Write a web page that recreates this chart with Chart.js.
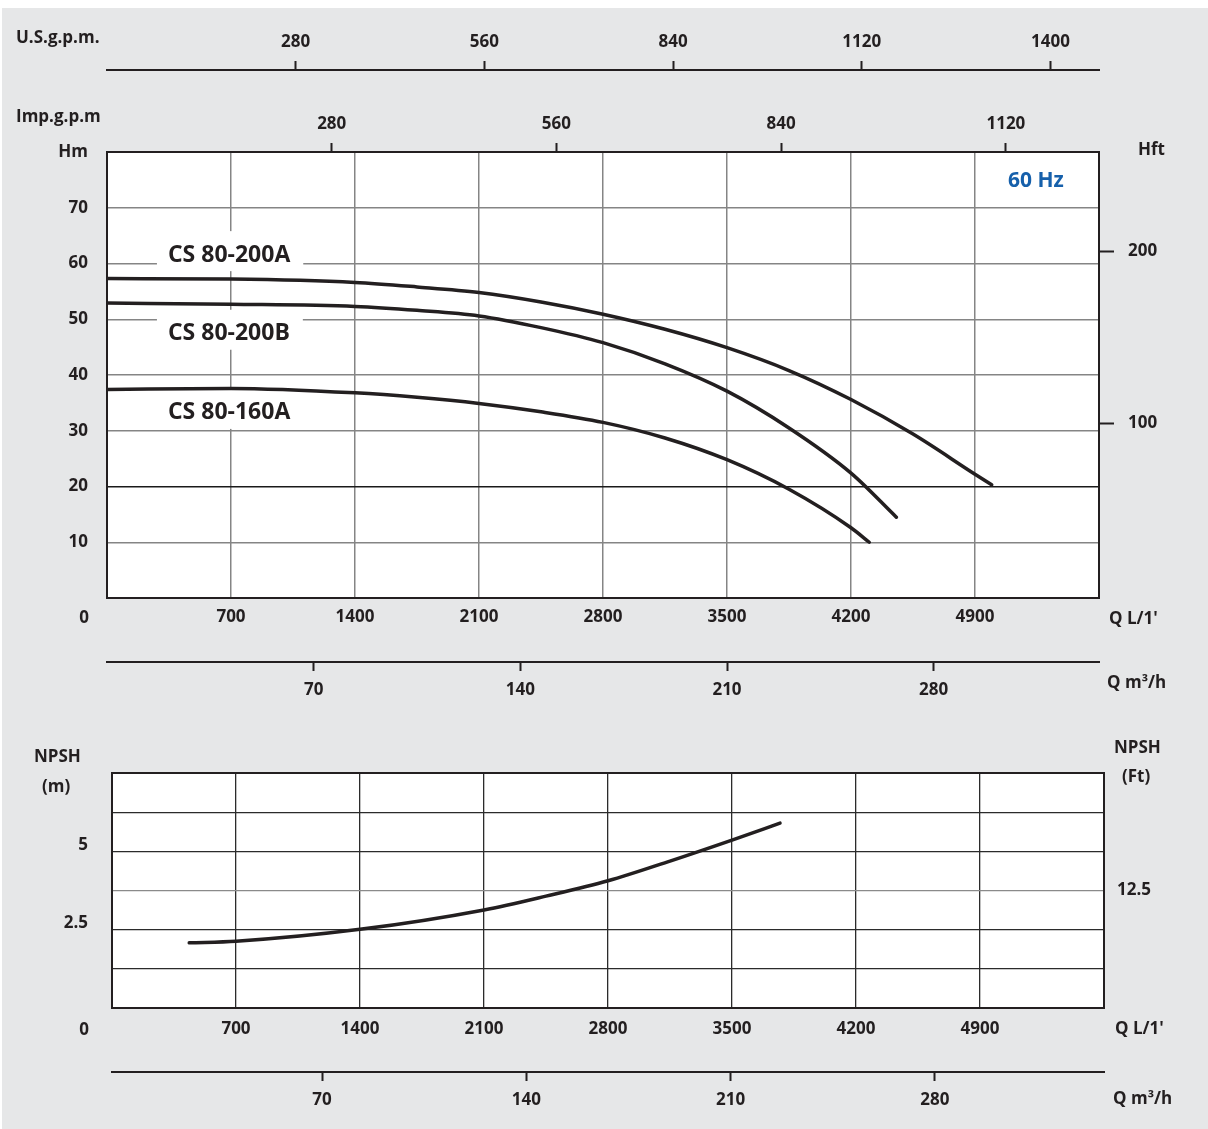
<!DOCTYPE html>
<html>
<head>
<meta charset="utf-8">
<script src="https://cdn.jsdelivr.net/npm/chart.js@4.4.1/dist/chart.umd.min.js"></script>
<style>
  html, body { margin: 0; padding: 0; background: #fff; }
  #page { position: absolute; left: 2px; top: 8px; width: 1206px; height: 1121px; background: #e6e7e8; }
  canvas { position: absolute; left: 0; }
  #headChart { top: 0; }
  #npshChart { top: 720px; }
</style>
</head>
<body>
<div id="page"></div>
<canvas id="headChart" width="1208" height="720"></canvas>
<canvas id="npshChart" width="1208" height="409"></canvas>
<script>
// Q-H curves at 60 Hz, Q in L/min, H in m
const modelNames = ["CS 80-200A", "CS 80-200B", "CS 80-160A"];
const qA = [0, 700, 1400, 1750, 2100, 2450, 2800, 3150, 3500, 3850, 4200, 4550, 4900, 4994];
const hA = [57.3, 57.2, 56.6, 55.8, 54.8, 53.1, 50.9, 48.2, 44.9, 40.8, 35.6, 29.4, 22.2, 20.3];
const qB = [0, 700, 1400, 1750, 2100, 2450, 2800, 3150, 3500, 3850, 4200, 4456];
const hB = [52.9, 52.7, 52.3, 51.6, 50.6, 48.5, 45.8, 42.0, 37.1, 30.5, 22.4, 14.5];
const qC = [0, 700, 1400, 1750, 2100, 2450, 2800, 3150, 3500, 3850, 4200, 4303];
const hC = [37.4, 37.6, 36.8, 36.0, 34.9, 33.4, 31.5, 28.7, 24.8, 19.5, 12.6, 10.0];

// NPSH required, Q in L/min, NPSH in m
const qNpsh = [436, 700, 1400, 2100, 2450, 2800, 3150, 3500, 3771];
const npsh = [2.08, 2.13, 2.51, 3.13, 3.57, 4.06, 4.69, 5.36, 5.9];

// tick labels of the secondary scales
const usGpmTicks = [280, 560, 840, 1120, 1400];
const impGpmTicks = [280, 560, 840, 1120];
const m3hTicks = [70, 140, 210, 280];
const hftTicks = [100, 200];
const npshMTicks = [2.5, 5];
const npshFtTicks = [12.5];

const ink = "#231f20";
Chart.defaults.font.family = "'Open Sans', 'DejaVu Sans', sans-serif";
Chart.defaults.font.weight = "bold";
Chart.defaults.font.size = 17;
Chart.defaults.color = ink;

const curve = (q, v) => q.map((x, i) => ({ x, y: v[i] }));
const lineStyle = { borderColor: ink, borderWidth: 3.5, pointRadius: 0, fill: false,
  cubicInterpolationMode: "monotone", borderCapStyle: "round" };
const fixedTicks = list => axis => { axis.ticks = list.map(value => ({ value })); };
const plain = v => String(v);

function text(ctx, str, x, y, align) {
  ctx.textAlign = align || "left";
  ctx.fillText(str, x, y);
}

const plotBg = {
  id: "plotBg",
  beforeDraw(chart) {
    const a = chart.chartArea, ctx = chart.ctx;
    ctx.save();
    ctx.fillStyle = "#fff";
    ctx.fillRect(a.left, a.top, a.width, a.height);
    ctx.restore();
  },
  afterDatasetsDraw(chart) {
    const a = chart.chartArea, ctx = chart.ctx;
    ctx.save();
    ctx.strokeStyle = ink;
    ctx.lineWidth = 2;
    ctx.strokeRect(a.left, a.top, a.width, a.height);
    ctx.restore();
  }
};

// static captions around the plots
const captions = lines => ({
  id: "captions",
  afterDraw(chart) {
    const ctx = chart.ctx;
    ctx.save();
    ctx.fillStyle = ink;
    ctx.font = "bold 17px 'Open Sans', sans-serif";
    ctx.textBaseline = "middle";
    lines.forEach(l => text(ctx, l[0], l[1], l[2], l[3]));
    ctx.restore();
  }
});

// model names with white boxes, and the frequency tag
const curveLabels = {
  id: "curveLabels",
  beforeDatasetsDraw(chart) {
    const { ctx, scales: { x, y } } = chart;
    const at = [[344, 61.5], [344, 47.4], [344, 33.2]];
    ctx.save();
    ctx.font = "bold 23px 'Open Sans', sans-serif";
    ctx.textBaseline = "middle";
    modelNames.forEach((name, i) => {
      const px = x.getPixelForValue(at[i][0]), py = y.getPixelForValue(at[i][1]);
      const w = ctx.measureText(name).width;
      ctx.fillStyle = "#fff";
      ctx.fillRect(px - 11, py - 24, w + 24, 40);
      ctx.fillStyle = ink;
      text(ctx, name, px, py);
    });
    ctx.font = "bold 21px 'Open Sans', sans-serif";
    ctx.fillStyle = "#1660ab";
    text(ctx, "60 Hz", x.getPixelForValue(5086), y.getPixelForValue(74.8));
    ctx.restore();
  }
};

const secondaryGrid = len => ({ drawOnChartArea: false, tickLength: len, tickColor: ink, tickWidth: 2 });
const frame = { color: ink, width: 2 };

new Chart(document.getElementById("headChart"), {
  type: "line",
  data: {
    datasets: [
      { ...lineStyle, label: modelNames[0], data: curve(qA, hA) },
      { ...lineStyle, label: modelNames[1], data: curve(qB, hB) },
      { ...lineStyle, label: modelNames[2], data: curve(qC, hC) },
    ],
  },
  options: {
    responsive: false, animation: false,
    layout: { padding: { top: 10, right: 0, bottom: 8, left: 0 }, autoPadding: false },
    plugins: { legend: { display: false }, tooltip: { enabled: false } },
    scales: {
      x: { type: "linear", position: "bottom", weight: 0, min: 0, max: 5600,
        ticks: { stepSize: 700, padding: 9, autoSkip: false, maxRotation: 0,
          callback: v => (v === 0 || v === 5600) ? "" : String(v) },
        grid: { color: "#858585", lineWidth: 1.5, drawTicks: false },
        border: frame,
        afterFit: s => { s.height = 64; } },
      xm3: { type: "linear", position: "bottom", weight: 1, min: 0, max: 336,
        afterBuildTicks: fixedTicks(m3hTicks),
        ticks: { padding: 9, autoSkip: false, maxRotation: 0, callback: plain },
        grid: secondaryGrid(9), border: frame,
        afterFit: s => { s.height = 50; } },
      ximp: { type: "linear", position: "top", weight: 0, min: 0, max: 1236,
        afterBuildTicks: fixedTicks(impGpmTicks),
        ticks: { padding: 9, autoSkip: false, maxRotation: 0, callback: plain },
        grid: secondaryGrid(9), border: frame,
        afterFit: s => { s.height = 82; } },
      xus: { type: "linear", position: "top", weight: 1, min: 0, max: 1472,
        afterBuildTicks: fixedTicks(usGpmTicks),
        ticks: { padding: 9, autoSkip: false, maxRotation: 0, callback: plain },
        grid: secondaryGrid(9), border: frame,
        afterFit: s => { s.height = 60; } },
      y: { position: "left", min: 0, max: 80,
        ticks: { stepSize: 10, padding: 19, callback: v => (v === 0 || v === 80) ? "" : String(v) },
        grid: { color: c => c.tick && c.tick.value === 20 ? "#1a1a1a" : "#858585", lineWidth: 1.5, drawTicks: false },
        border: frame,
        afterFit: s => { s.width = 107; } },
      yft: { position: "right", min: -2, max: 258,
        afterBuildTicks: fixedTicks(hftTicks),
        ticks: { padding: 14, callback: plain },
        grid: secondaryGrid(15), border: frame,
        afterFit: s => { s.width = 109; } },
    },
  },
  plugins: [plotBg, curveLabels, captions([
    ["U.S.g.p.m.", 16, 38], ["Imp.g.p.m", 16, 117], ["Hm", 88, 152, "right"], ["Hft", 1138, 150],
    ["0", 84, 618, "center"], ["Q L/1'", 1109, 619], ["Q m³/h", 1107, 683],
  ])],
});

new Chart(document.getElementById("npshChart"), {
  type: "line",
  data: { datasets: [{ ...lineStyle, label: "NPSH", data: curve(qNpsh, npsh) }] },
  options: {
    responsive: false, animation: false,
    layout: { padding: { top: 53, right: 0, bottom: 12, left: 0 }, autoPadding: false },
    plugins: { legend: { display: false }, tooltip: { enabled: false } },
    scales: {
      x: { type: "linear", position: "bottom", weight: 0, min: 0, max: 5600,
        ticks: { stepSize: 700, padding: 11, autoSkip: false, maxRotation: 0,
          callback: v => (v === 0 || v === 5600) ? "" : String(v) },
        grid: { color: "#2b2b2b", lineWidth: 1.3, drawTicks: false },
        border: frame,
        afterFit: s => { s.height = 64; } },
      xm3: { type: "linear", position: "bottom", weight: 1, min: -2, max: 338,
        afterBuildTicks: fixedTicks(m3hTicks),
        ticks: { padding: 9, autoSkip: false, maxRotation: 0, callback: plain },
        grid: secondaryGrid(9), border: frame,
        afterFit: s => { s.height = 45; } },
      y: { position: "left", min: 0, max: 7.5,
        ticks: { stepSize: 1.25, padding: 24, labelOffset: -6.5,
          callback: v => npshMTicks.includes(v) ? String(v) : "" },
        grid: { color: c => c.tick && c.tick.value === 3.75 ? "#8a8a8a" : "#2b2b2b", lineWidth: 1.3, drawTicks: false },
        border: frame,
        afterFit: s => { s.width = 112; } },
      yft: { position: "right", min: 0, max: 25,
        afterBuildTicks: fixedTicks(npshFtTicks),
        ticks: { padding: 13, callback: plain },
        grid: { drawOnChartArea: false, drawTicks: false }, border: frame,
        afterFit: s => { s.width = 104; } },
    },
  },
  plugins: [plotBg, captions([
    ["NPSH", 34, 37], ["(m)", 42, 67], ["NPSH", 1114, 28], ["(Ft)", 1122, 57],
    ["0", 84, 310, "center"], ["Q L/1'", 1115, 309], ["Q m³/h", 1113, 379],
  ])],
});
</script>
</body>
</html>
